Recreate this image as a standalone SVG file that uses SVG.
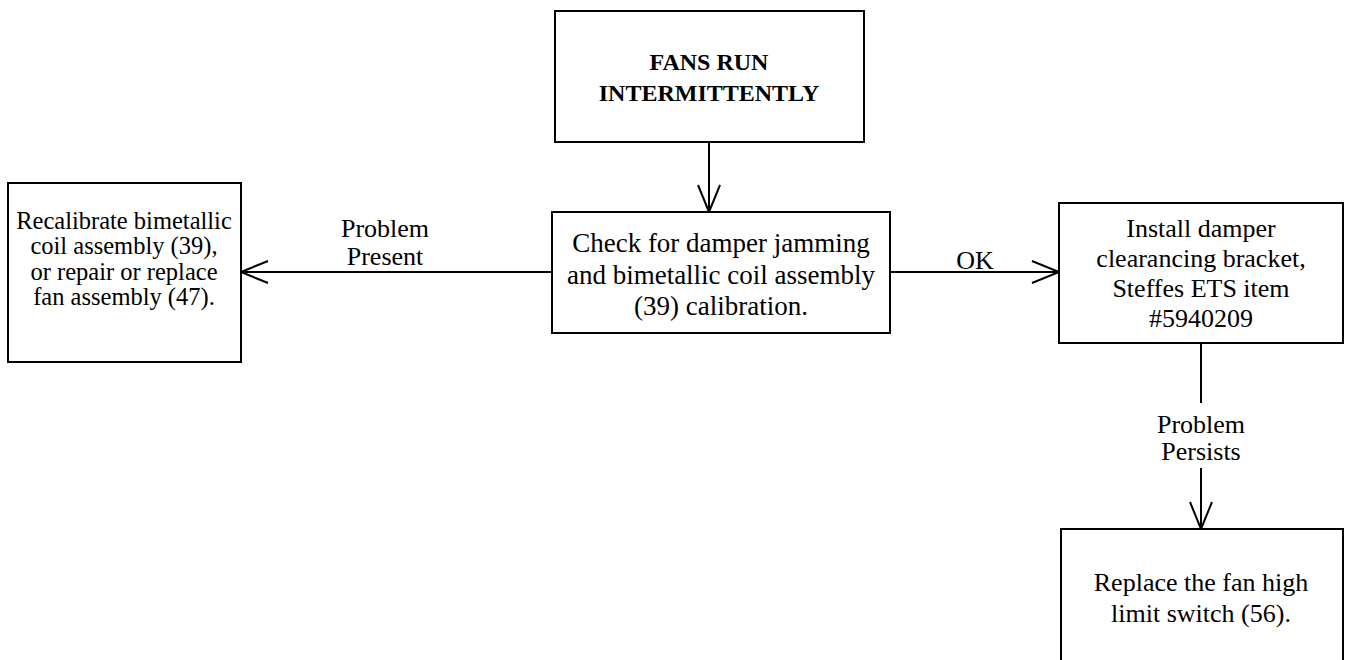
<svg xmlns="http://www.w3.org/2000/svg" width="1349" height="660" viewBox="0 0 1349 660">
<style>
.box{fill:#fff;stroke:#000;stroke-width:2}
.t{font-family:"Liberation Serif","Times New Roman",serif;font-size:26px;fill:#000;text-anchor:middle}
.b{font-weight:bold;font-size:24px}
.s{font-size:24.5px}
.l{font-size:27px}
.c{stroke:#000;stroke-width:2;fill:none}
</style>
<defs>
<marker id="arr" markerWidth="30" markerHeight="24" refX="28" refY="12" orient="auto" markerUnits="userSpaceOnUse">
<path d="M1,1 L28,12 L1,23" fill="none" stroke="#000" stroke-width="2"/>
</marker>
</defs>
<rect width="1349" height="660" fill="#fff"/>
<g id="connectors">
<line class="c" x1="709" y1="142" x2="709" y2="212" marker-end="url(#arr)"/>
<line class="c" x1="552" y1="272" x2="241" y2="272" marker-end="url(#arr)"/>
<line class="c" x1="890" y1="272" x2="1059" y2="272" marker-end="url(#arr)"/>
<line class="c" x1="1201" y1="343" x2="1201" y2="403"/>
<line class="c" x1="1201" y1="468" x2="1201" y2="529" marker-end="url(#arr)"/>
<text class="t" x="385" y="237">Problem</text>
<text class="t" x="385" y="265">Present</text>
<text class="t" x="975" y="269">OK</text>
<text class="t" x="1201" y="433">Problem</text>
<text class="t" x="1201" y="460">Persists</text>
</g>
<g id="n1">
<rect class="box" x="555" y="11" width="309" height="131"/>
<text class="t b" x="709" y="70">FANS RUN</text>
<text class="t b" x="709" y="101">INTERMITTENTLY</text>
</g>
<g id="n2">
<rect class="box" x="552" y="212" width="338" height="121"/>
<text class="t l" x="721" y="252">Check for damper jamming</text>
<text class="t l" x="721" y="284">and bimetallic coil assembly</text>
<text class="t l" x="721" y="315">(39) calibration.</text>
</g>
<g id="n3">
<rect class="box" x="8" y="183" width="233" height="179"/>
<text class="t s" x="124" y="229">Recalibrate bimetallic</text>
<text class="t s" x="124" y="254">coil assembly (39),</text>
<text class="t s" x="124" y="280">or repair or replace</text>
<text class="t s" x="124" y="305">fan assembly (47).</text>
</g>
<g id="n4">
<rect class="box" x="1059" y="203" width="284" height="140"/>
<text class="t" x="1201" y="237">Install damper</text>
<text class="t" x="1201" y="267">clearancing bracket,</text>
<text class="t" x="1201" y="297">Steffes ETS item</text>
<text class="t" x="1201" y="327">#5940209</text>
</g>
<g id="n5">
<rect class="box" x="1061" y="529" width="282" height="140"/>
<text class="t" x="1201" y="591">Replace the fan high</text>
<text class="t" x="1201" y="622">limit switch (56).</text>
</g>
</svg>
